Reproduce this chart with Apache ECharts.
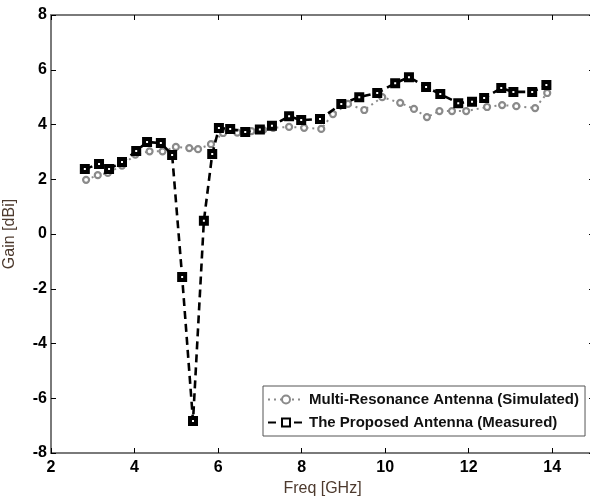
<!DOCTYPE html>
<html>
<head>
<meta charset="utf-8">
<script src="https://cdn.jsdelivr.net/npm/echarts@6/dist/echarts.min.js"></script>
<style>
html,body{margin:0;padding:0;background:#fff;}
#chart{width:590px;height:497px;}
</style>
</head>
<body>
<div id="chart"></div>
<script>
const simName = 'Multi-Resonance Antenna (Simulated)';
const measName = 'The Proposed Antenna (Measured)';
const simFreq = [2.84, 3.12, 3.36, 3.70, 4.02, 4.36, 4.67, 4.99, 5.31, 5.52, 5.83, 6.12, 6.46, 6.80, 7.08, 7.32, 7.70, 8.06, 8.47, 8.75, 9.11, 9.50, 9.93, 10.36, 10.69, 11.00, 11.30, 11.60, 11.94, 12.44, 12.80, 13.14, 13.59, 13.88];
const simGain = [1.98, 2.15, 2.23, 2.50, 2.90, 3.02, 3.02, 3.18, 3.14, 3.10, 3.28, 3.69, 3.70, 3.76, 3.80, 3.88, 3.91, 3.88, 3.84, 4.38, 4.75, 4.53, 5.00, 4.79, 4.57, 4.27, 4.49, 4.49, 4.49, 4.64, 4.71, 4.67, 4.60, 5.15];
const measFreq = [2.81, 3.15, 3.39, 3.70, 4.04, 4.30, 4.63, 4.90, 5.14, 5.40, 5.66, 5.86, 6.02, 6.29, 6.65, 7.00, 7.29, 7.70, 7.99, 8.44, 8.95, 9.38, 9.81, 10.24, 10.57, 10.98, 11.32, 11.75, 12.08, 12.37, 12.78, 13.07, 13.52, 13.86];
const measGain = [2.37, 2.56, 2.37, 2.63, 3.03, 3.36, 3.32, 2.89, -1.57, -6.83, 0.48, 2.92, 3.87, 3.84, 3.73, 3.82, 3.95, 4.30, 4.16, 4.20, 4.75, 5.00, 5.15, 5.51, 5.73, 5.37, 5.11, 4.78, 4.83, 4.97, 5.33, 5.19, 5.19, 5.44];
const xTicks = {min: 2, max: 15, interval: 2};
const yTicks = {min: -8, max: 8, interval: 2};

const chart = echarts.init(document.getElementById('chart'), null, {renderer: 'canvas'});
const tickFont = {fontFamily: 'Liberation Sans, Arial, sans-serif', fontWeight: 'bold', fontSize: 16, color: '#000'};
const axisLineStyle = {color: '#7a7a7a', width: 2};
const tickStyle = {inside: true, length: 5, lineStyle: {color: '#000', width: 1}};
const option = {
  animation: false,
  backgroundColor: '#fff',
  grid: {left: 51, top: 15, width: 543, height: 438, outerBoundsMode: 'none', containLabel: false},
  legend: {
    orient: 'vertical',
    left: 263, top: 386,
    backgroundColor: '#fff',
    borderColor: '#555', borderWidth: 1,
    padding: [6, 6, 6, 4],
    itemGap: 8,
    itemWidth: 36, itemHeight: 10,
    textStyle: {fontFamily: 'Liberation Sans, Arial, sans-serif', fontWeight: 'bold', fontSize: 15, color: '#111'},
    data: [simName, measName]
  },
  xAxis: [
    {type: 'value', position: 'bottom', min: xTicks.min, max: xTicks.max, interval: xTicks.interval,
     name: 'Freq [GHz]', nameLocation: 'middle', nameGap: 26,
     nameTextStyle: {fontFamily: 'Liberation Sans, Arial, sans-serif', fontSize: 16, color: '#4d3a2e'},
     axisLine: {onZero: false, lineStyle: axisLineStyle}, axisTick: tickStyle,
     axisLabel: {...tickFont, margin: 7, showMaxLabel: false}, splitLine: {show: false}},
    {type: 'value', position: 'top', min: xTicks.min, max: xTicks.max, interval: xTicks.interval,
     axisLine: {onZero: false, lineStyle: axisLineStyle}, axisTick: tickStyle,
     axisLabel: {show: false}, splitLine: {show: false}}
  ],
  yAxis: [
    {type: 'value', position: 'left', min: yTicks.min, max: yTicks.max, interval: yTicks.interval,
     name: 'Gain [dBi]', nameLocation: 'middle', nameGap: 33, nameRotate: 90,
     nameTextStyle: {fontFamily: 'Liberation Sans, Arial, sans-serif', fontSize: 16, color: '#4d3a2e'},
     axisLine: {onZero: false, lineStyle: axisLineStyle}, axisTick: tickStyle,
     axisLabel: {...tickFont, margin: 4}, splitLine: {show: false}},
    {type: 'value', position: 'right', min: yTicks.min, max: yTicks.max, interval: yTicks.interval,
     axisLine: {onZero: false, lineStyle: axisLineStyle}, axisTick: tickStyle,
     axisLabel: {show: false}, splitLine: {show: false}}
  ],
  series: [
    {
      name: simName, type: 'line', xAxisIndex: 0, yAxisIndex: 0,
      data: simFreq.map((f, i) => [f, simGain[i]]),
      symbol: 'circle', symbolSize: 6,
      lineStyle: {color: '#8a8a8a', width: 2, type: [2, 4]},
      itemStyle: {color: '#fff', borderColor: '#8a8a8a', borderWidth: 2.2},
      z: 2
    },
    {
      name: measName, type: 'line', xAxisIndex: 0, yAxisIndex: 0,
      data: measFreq.map((f, i) => [f, measGain[i]]),
      symbol: 'rect', symbolSize: 6,
      lineStyle: {color: '#000', width: 2.6, type: [8, 5]},
      itemStyle: {color: '#fff', borderColor: '#000', borderWidth: 4},
      z: 3
    }
  ]
};
chart.setOption(option);
</script>
</body>
</html>
